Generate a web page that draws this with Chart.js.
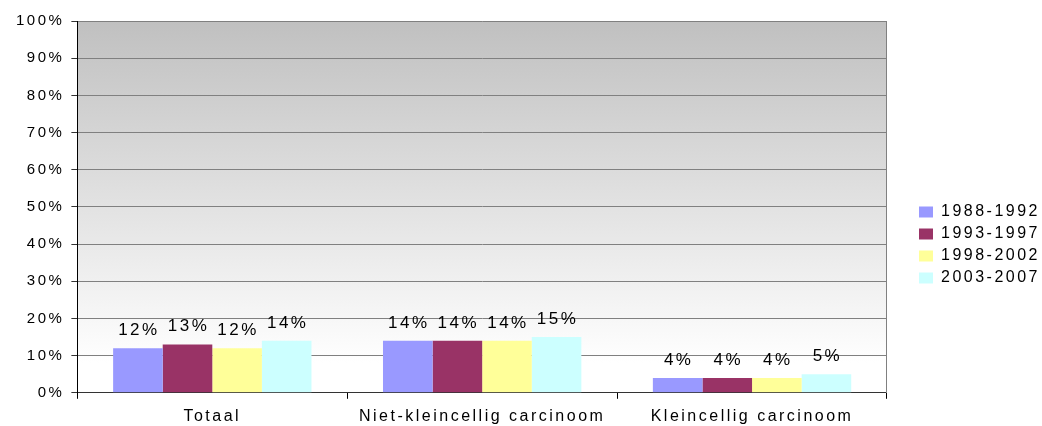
<!DOCTYPE html>
<html>
<head>
<meta charset="utf-8">
<script src="https://cdn.jsdelivr.net/npm/chart.js@4"></script>
<style>
html,body{margin:0;padding:0;background:#fff;}
canvas{display:block;}
</style>
</head>
<body>
<canvas id="c" width="1042" height="426"></canvas>
<script>
const categories = ['Totaal', 'Niet-kleincellig carcinoom', 'Kleincellig carcinoom'];
const seriesNames = ['1988-1992', '1993-1997', '1998-2002', '2003-2007'];
const s1988 = [12, 14, 4];
const s1993 = [13, 14, 4];
const s1998 = [12, 14, 4];
const s2003 = [14, 15, 5];
const seriesColors = ['#9999FF', '#993366', '#FFFF99', '#CCFFFF'];
const yTicks = [0, 10, 20, 30, 40, 50, 60, 70, 80, 90, 100];

const FONT = "'Liberation Sans', Arial, sans-serif";
const LS = '2.5px';

const spacingPlugin = {
  id: 'spacing',
  beforeUpdate(chart) { chart.ctx.letterSpacing = LS; },
  beforeDraw(chart) { chart.ctx.letterSpacing = LS; }
};

const bgPlugin = {
  id: 'bg',
  beforeDraw(chart) {
    const {ctx, chartArea: a} = chart;
    const g = ctx.createLinearGradient(0, a.top, 0, a.bottom);
    g.addColorStop(0, '#c0c0c0');
    g.addColorStop(0.92, '#ffffff');
    g.addColorStop(1, '#ffffff');
    ctx.save();
    ctx.fillStyle = g;
    ctx.fillRect(a.left, a.top, a.right - a.left, a.bottom - a.top);
    ctx.restore();
  }
};

const labelPlugin = {
  id: 'valueLabels',
  afterDatasetsDraw(chart) {
    const ctx = chart.ctx;
    ctx.save();
    ctx.letterSpacing = LS;
    ctx.font = '17px ' + FONT;
    ctx.fillStyle = '#000';
    ctx.textAlign = 'center';
    ctx.textBaseline = 'alphabetic';
    chart.data.datasets.forEach((ds, i) => {
      const meta = chart.getDatasetMeta(i);
      meta.data.forEach((bar, j) => {
        ctx.fillText(ds.data[j] + '%', bar.x + 1, bar.y - 13);
      });
    });
    ctx.restore();
  }
};

const allSeries = [s1988, s1993, s1998, s2003];

new Chart(document.getElementById('c'), {
  type: 'bar',
  data: {
    labels: categories,
    datasets: allSeries.map((d, i) => ({
      label: seriesNames[i],
      data: d,
      backgroundColor: seriesColors[i],
      borderWidth: 0,
      categoryPercentage: 0.735,
      barPercentage: 1.0
    }))
  },
  options: {
    responsive: false,
    animation: false,
    layout: { padding: { left: 9, top: 21, right: -8, bottom: -8 } },
    plugins: {
      tooltip: { enabled: false },
      legend: {
        position: 'right',
        align: 'center',
        title: { display: true, text: ' ', font: { size: 10, family: FONT }, padding: { top: 23, bottom: 0 } },
        labels: {
          boxWidth: 14,
          boxHeight: 11,
          padding: 6,
          color: '#000',
          font: { size: 16, family: FONT }
        }
      }
    },
    scales: {
      x: {
        grid: { display: true, drawOnChartArea: false, drawTicks: true, tickLength: 6, offset: true, color: '#000' },
        border: { display: true, color: '#333', width: 1 },
        ticks: { color: '#000', padding: 8, font: { size: 16, family: FONT } }
      },
      y: {
        min: 0,
        max: 100,
        afterBuildTicks: (s) => { s.ticks = yTicks.map(v => ({ value: v })); },
        grid: { color: '#808080', tickColor: '#333', tickLength: 6 },
        border: { display: true, color: '#000', width: 1 },
        ticks: { color: '#000', padding: 7, font: { size: 15, family: FONT }, callback: v => v + '%' }
      },
      yR: {
        type: 'linear',
        position: 'right',
        display: true,
        grid: { display: false, drawTicks: false },
        border: { display: true, color: '#808080', width: 1 },
        ticks: { display: false },
        afterFit: (s) => { s.width = 26; }
      }
    }
  },
  plugins: [spacingPlugin, bgPlugin, labelPlugin]
});
</script>
</body>
</html>
